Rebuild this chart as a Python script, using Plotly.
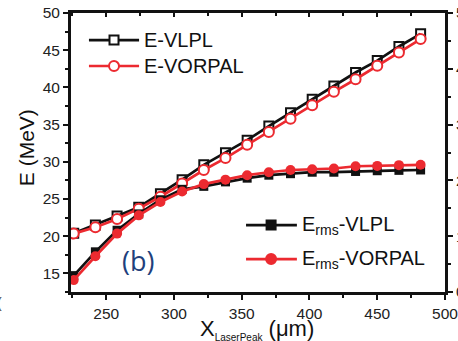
import plotly.graph_objects as go

# Laser-peak position (um) and electron energies (MeV)
x_peak = [226, 242, 258, 274, 290, 306, 322, 338, 354, 370, 386, 402, 418, 434, 450, 466, 482]
e_vlpl = [20.4, 21.5, 22.7, 23.9, 25.7, 27.6, 29.6, 31.2, 32.9, 34.8, 36.6, 38.4, 40.2, 42.0, 43.6, 45.5, 47.2]
e_vorpal = [20.35, 21.2, 22.3, 23.7, 25.3, 27.1, 28.9, 30.5, 32.3, 34.0, 35.8, 37.6, 39.4, 41.1, 42.9, 44.7, 46.5]
erms_vlpl = [14.7, 17.9, 20.8, 23.0, 24.9, 26.3, 26.7, 27.3, 27.8, 28.2, 28.4, 28.6, 28.6, 28.7, 28.8, 28.85, 28.9]
erms_vorpal = [14.1, 17.3, 20.35, 22.8, 24.6, 26.0, 27.0, 27.6, 28.2, 28.6, 28.9, 29.0, 29.1, 29.4, 29.45, 29.55, 29.6]

BLACK = "#111111"
RED = "#ec2a30"
FONT = "Liberation Sans, Arial, sans-serif"

fig = go.Figure()

fig.add_trace(go.Scatter(
    x=x_peak, y=e_vlpl, mode="lines+markers", name="E-VLPL",
    line=dict(color=BLACK, width=2.7),
    marker=dict(symbol="square-open", size=9, color=BLACK, line=dict(width=2)),
))
fig.add_trace(go.Scatter(
    x=x_peak, y=e_vorpal, mode="lines+markers", name="E-VORPAL",
    line=dict(color=RED, width=2.7),
    marker=dict(symbol="circle", size=10, color="white", line=dict(color=RED, width=2)),
))
fig.add_trace(go.Scatter(
    x=x_peak, y=erms_vlpl, mode="lines+markers", name="E<sub>rms</sub>-VLPL",
    line=dict(color=BLACK, width=2.7),
    marker=dict(symbol="square", size=9, color=BLACK),
))
fig.add_trace(go.Scatter(
    x=x_peak, y=erms_vorpal, mode="lines+markers", name="E<sub>rms</sub>-VORPAL",
    line=dict(color=RED, width=2.7),
    marker=dict(symbol="circle", size=10, color=RED),
))

# Hand-drawn legend keys (longer sample lines than the built-in legend)
def legend_key(xl, xr, xm, y, color, symbol, fill, label):
    fig.add_shape(type="line", xref="paper", yref="paper", x0=xl, x1=xr, y0=y, y1=y,
                  line=dict(color=color, width=2.7), layer="above")
    shp = "rect" if symbol == "square" else "circle"
    r = 4.5 if symbol == "square" else 5
    fig.add_shape(type=shp, xref="paper", yref="paper", xsizemode="pixel", ysizemode="pixel",
                  xanchor=xm, yanchor=y, x0=-r, x1=r, y0=-r, y1=r,
                  fillcolor=fill, line=dict(color=color, width=2), layer="above")
    fig.add_annotation(x=xr + 0.008, y=y, xref="paper", yref="paper", text=label,
                       showarrow=False, xanchor="left", yanchor="middle",
                       font=dict(family=FONT, size=20, color=BLACK))

legend_key(0.048, 0.182, 0.115, 0.903, BLACK, "square", "white", "E-VLPL")
legend_key(0.048, 0.182, 0.115, 0.810, RED, "circle", "white", "E-VORPAL")
legend_key(0.468, 0.604, 0.535, 0.240, BLACK, "square", BLACK, "E<sub>rms</sub>-VLPL")
legend_key(0.468, 0.604, 0.535, 0.118, RED, "circle", RED, "E<sub>rms</sub>-VORPAL")

# Panel label
fig.add_annotation(x=0.131, y=0.112, xref="paper", yref="paper", text="(b)", showarrow=False,
                   xanchor="left", yanchor="middle",
                   font=dict(family="Open Sans, sans-serif", size=27, color="#213f7c"))

# Axis titles
fig.add_annotation(x=-0.156, y=0.516, xref="paper", yref="paper", text="E (MeV)", showarrow=False,
                   textangle=-90, font=dict(family=FONT, size=21, color=BLACK))
fig.add_annotation(x=0.498, y=-0.08, xref="paper", yref="paper",
                   text="X<sub><span style=\"font-size:10px\">LaserPeak</span></sub> (\u03bcm)",
                   showarrow=False, yanchor="top",
                   font=dict(family=FONT, size=22, color=BLACK))
fig.add_annotation(x=-0.178, y=-0.075, xref="paper", yref="paper", text="(", showarrow=False,
                   xanchor="right", font=dict(family=FONT, size=14, color="#444"))

axis_common = dict(showline=True, linecolor=BLACK, linewidth=3, showgrid=False, zeroline=False,
                   automargin=False, ticklabeloverflow="allow", tickcolor=BLACK, tickwidth=2,
                   tickfont=dict(family=FONT, size=15.5, color="#222"))

fig.update_layout(
    width=458, height=341,
    margin=dict(l=71, r=13, t=13, b=49),
    paper_bgcolor="white", plot_bgcolor="white",
    showlegend=False,
    xaxis=dict(range=[224, 500], dtick=50, tick0=250, ticks="outside", ticklen=5,
               minor=dict(dtick=25, tick0=225, ticks="outside", ticklen=3, tickwidth=2, tickcolor=BLACK),
               **axis_common),
    xaxis2=dict(range=[224, 500], overlaying="x", side="top", anchor="y", dtick=50, tick0=250,
                ticks="inside", ticklen=4, showticklabels=False,
                minor=dict(dtick=25, tick0=225, ticks="inside", ticklen=3, tickwidth=2, tickcolor=BLACK),
                **axis_common),
    yaxis=dict(range=[12.5, 50], dtick=5, tick0=15, ticks="outside", ticklen=5,
               minor=dict(dtick=2.5, ticks="outside", ticklen=3, tickwidth=2, tickcolor=BLACK),
               **axis_common),
    yaxis2=dict(range=[0, 50], overlaying="y", side="right", anchor="x", dtick=10, tick0=0,
                ticks="outside", ticklen=5,
                minor=dict(dtick=5, ticks="outside", ticklen=3, tickwidth=2, tickcolor=BLACK),
                **axis_common),
)

# Invisible trace to activate the top/right companion axes
fig.add_trace(go.Scatter(x=[None], y=[None], xaxis="x2", yaxis="y2", showlegend=False,
                         hoverinfo="skip"))

fig.write_html("out.html")
